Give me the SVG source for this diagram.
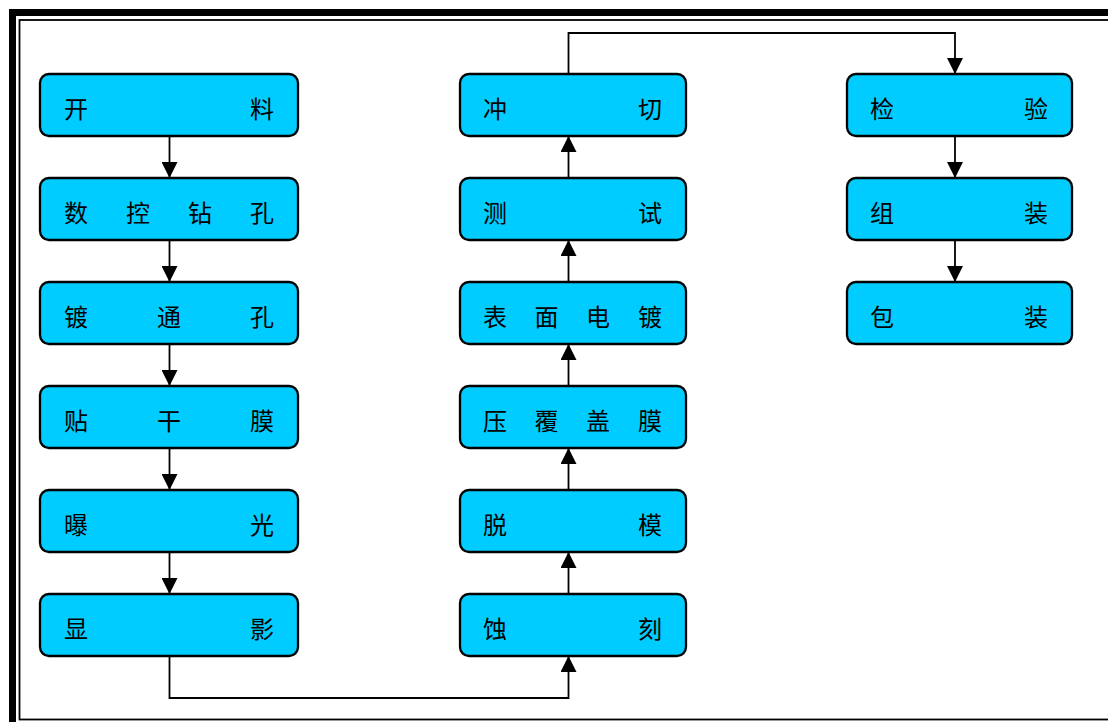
<svg xmlns="http://www.w3.org/2000/svg" width="1108" height="722" viewBox="0 0 1108 722">
  <style>
    .box { fill: #00CCFF; stroke: #000; stroke-width: 2.3; }
    .lbl { font-family: "Noto Sans CJK SC", "Noto Sans", sans-serif; font-size: 24px; fill: #000; text-anchor: middle; }
    .wire { fill: none; stroke: #000; stroke-width: 1.8; }
  </style>
  <defs>
    <marker id="arrow" markerUnits="userSpaceOnUse" markerWidth="16" markerHeight="16" viewBox="0 0 16 16" refX="16" refY="8" orient="auto">
      <path d="M0,0 L16,8 L0,16 Z" fill="#000"/>
    </marker>
  </defs>
  <rect width="1108" height="722" fill="#fff"/>
  <!-- double frame -->
  <rect x="12.5" y="12.5" width="1120" height="740" fill="none" stroke="#000" stroke-width="7"/>
  <rect x="19.5" y="20" width="1110" height="699.5" fill="none" stroke="#000" stroke-width="1.8"/>

  <!-- connectors -->
  <g id="connectors">
    <path class="wire" d="M169.5,136 V178" marker-end="url(#arrow)"/>
    <path class="wire" d="M169.5,240 V282" marker-end="url(#arrow)"/>
    <path class="wire" d="M169.5,344 V386" marker-end="url(#arrow)"/>
    <path class="wire" d="M169.5,448 V490" marker-end="url(#arrow)"/>
    <path class="wire" d="M169.5,552 V594" marker-end="url(#arrow)"/>
    <path class="wire" d="M169.5,656 V698 H568.5 V656" marker-end="url(#arrow)"/>
    <path class="wire" d="M568.5,594 V552" marker-end="url(#arrow)"/>
    <path class="wire" d="M568.5,490 V448" marker-end="url(#arrow)"/>
    <path class="wire" d="M568.5,386 V344" marker-end="url(#arrow)"/>
    <path class="wire" d="M568.5,282 V240" marker-end="url(#arrow)"/>
    <path class="wire" d="M568.5,178 V136" marker-end="url(#arrow)"/>
    <path class="wire" d="M568.5,74 V33 H955 V74" marker-end="url(#arrow)"/>
    <path class="wire" d="M955,136 V178" marker-end="url(#arrow)"/>
    <path class="wire" d="M955,240 V282" marker-end="url(#arrow)"/>
  </g>

  <!-- column 1 -->
  <g id="n-kailiao">
    <rect class="box" x="40" y="74" width="258" height="62" rx="9"/>
    <text class="lbl" y="118"><tspan x="76">开</tspan><tspan x="262">料</tspan></text>
  </g>
  <g id="n-shukong">
    <rect class="box" x="40" y="178" width="258" height="62" rx="9"/>
    <text class="lbl" y="222"><tspan x="76">数</tspan><tspan x="138">控</tspan><tspan x="200">钻</tspan><tspan x="262">孔</tspan></text>
  </g>
  <g id="n-dutongkong">
    <rect class="box" x="40" y="282" width="258" height="62" rx="9"/>
    <text class="lbl" y="326"><tspan x="76">镀</tspan><tspan x="169">通</tspan><tspan x="262">孔</tspan></text>
  </g>
  <g id="n-tieganmo">
    <rect class="box" x="40" y="386" width="258" height="62" rx="9"/>
    <text class="lbl" y="430"><tspan x="76">贴</tspan><tspan x="169">干</tspan><tspan x="262">膜</tspan></text>
  </g>
  <g id="n-baoguang">
    <rect class="box" x="40" y="490" width="258" height="62" rx="9"/>
    <text class="lbl" y="534"><tspan x="76">曝</tspan><tspan x="262">光</tspan></text>
  </g>
  <g id="n-xianying">
    <rect class="box" x="40" y="594" width="258" height="62" rx="9"/>
    <text class="lbl" y="638"><tspan x="76">显</tspan><tspan x="262">影</tspan></text>
  </g>

  <!-- column 2 -->
  <g id="n-chongqie">
    <rect class="box" x="460" y="74" width="226" height="62" rx="9"/>
    <text class="lbl" y="118"><tspan x="495">冲</tspan><tspan x="650">切</tspan></text>
  </g>
  <g id="n-ceshi">
    <rect class="box" x="460" y="178" width="226" height="62" rx="9"/>
    <text class="lbl" y="222"><tspan x="495">测</tspan><tspan x="650">试</tspan></text>
  </g>
  <g id="n-biaomian">
    <rect class="box" x="460" y="282" width="226" height="62" rx="9"/>
    <text class="lbl" y="326"><tspan x="495">表</tspan><tspan x="546.5">面</tspan><tspan x="598">电</tspan><tspan x="650">镀</tspan></text>
  </g>
  <g id="n-yafugai">
    <rect class="box" x="460" y="386" width="226" height="62" rx="9"/>
    <text class="lbl" y="430"><tspan x="495">压</tspan><tspan x="546.5">覆</tspan><tspan x="598">盖</tspan><tspan x="650">膜</tspan></text>
  </g>
  <g id="n-tuomo">
    <rect class="box" x="460" y="490" width="226" height="62" rx="9"/>
    <text class="lbl" y="534"><tspan x="495">脱</tspan><tspan x="650">模</tspan></text>
  </g>
  <g id="n-shike">
    <rect class="box" x="460" y="594" width="226" height="62" rx="9"/>
    <text class="lbl" y="638"><tspan x="495">蚀</tspan><tspan x="650">刻</tspan></text>
  </g>

  <!-- column 3 -->
  <g id="n-jianyan">
    <rect class="box" x="847" y="74" width="225" height="62" rx="9"/>
    <text class="lbl" y="118"><tspan x="882">检</tspan><tspan x="1036">验</tspan></text>
  </g>
  <g id="n-zuzhuang">
    <rect class="box" x="847" y="178" width="225" height="62" rx="9"/>
    <text class="lbl" y="222"><tspan x="882">组</tspan><tspan x="1036">装</tspan></text>
  </g>
  <g id="n-baozhuang">
    <rect class="box" x="847" y="282" width="225" height="62" rx="9"/>
    <text class="lbl" y="326"><tspan x="882">包</tspan><tspan x="1036">装</tspan></text>
  </g>
</svg>
